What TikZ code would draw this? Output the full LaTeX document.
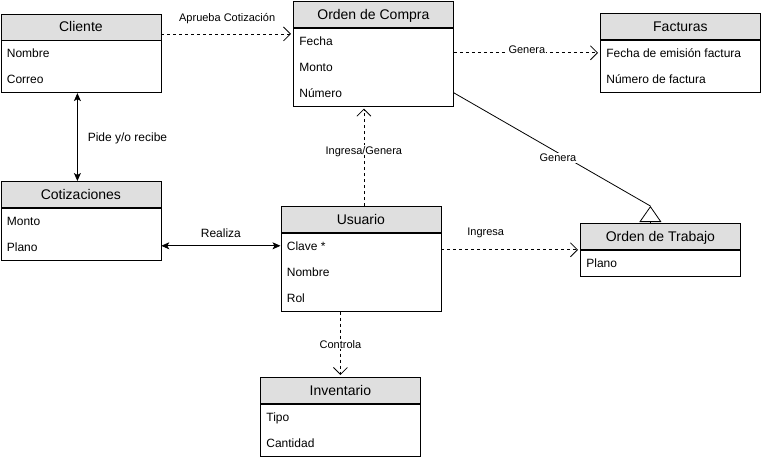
\documentclass[tikz,border=0pt]{standalone}
\usepackage{fontspec}
\setmainfont{Liberation Sans}
\usetikzlibrary{arrows.meta}

\begin{document}
\begin{tikzpicture}[x=1pt,y=-1pt,line width=0.8pt,
  hdr/.style={draw,fill=gray!25,minimum width=160pt,minimum height=26pt,inner sep=0pt,anchor=north west,font=\fontsize{14}{16}\selectfont,text height=10pt,text depth=0pt},
  body/.style={draw,minimum width=160pt,inner sep=0pt,anchor=north west},
  attr/.style={anchor=west,inner sep=0pt,font=\fontsize{12}{14}\selectfont,text height=8.6pt,text depth=0pt},
  lbl/.style={fill=white,inner sep=1pt,font=\fontsize{11}{13}\selectfont,text height=7.9pt,text depth=0pt},
  lblbig/.style={fill=white,inner sep=1pt,font=\fontsize{12}{14}\selectfont,text height=8.6pt,text depth=0pt},
  dep/.style={dash pattern=on 3pt off 3pt,-{Straight Barb[length=7pt,width=14pt]},shorten >=2pt},
  assoc/.style={{Stealth[length=8pt,width=7pt,inset=2pt]}-{Stealth[length=8pt,width=7pt,inset=2pt]}},
  gen/.style={-{Triangle[open,length=16pt,width=22pt]}}]
\useasboundingbox (0,0) rectangle (761,459);

% Cliente
\node[hdr] (cli) at (0.5,13.5) {Cliente};
\node[body,minimum height=52pt] (cli-b) at (cli.south west) {};
\foreach \t [count=\i] in {Nombre,Correo}
  \node[attr] (cli-\i) at ([xshift=6pt,yshift=13pt-26pt*\i]cli.south west) {\t};

% Orden de Compra
\node[hdr] (odc) at (293,1) {Orden de Compra};
\node[body,minimum height=78pt] (odc-b) at (odc.south west) {};
\foreach \t [count=\i] in {Fecha,Monto,Número}
  \node[attr] (odc-\i) at ([xshift=6pt,yshift=13pt-26pt*\i]odc.south west) {\t};

% Facturas
\node[hdr] (fac) at (600,13) {Facturas};
\node[body,minimum height=52pt] (fac-b) at (fac.south west) {};
\foreach \t [count=\i] in {Fecha de emisión factura,Número de factura}
  \node[attr] (fac-\i) at ([xshift=6pt,yshift=13pt-26pt*\i]fac.south west) {\t};

% Cotizaciones
\node[hdr] (cot) at (0.5,181) {Cotizaciones};
\node[body,minimum height=52pt] (cot-b) at (cot.south west) {};
\foreach \t [count=\i] in {Monto,Plano}
  \node[attr] (cot-\i) at ([xshift=6pt,yshift=13pt-26pt*\i]cot.south west) {\t};

% Usuario
\node[hdr] (usr) at (280.5,206) {Usuario};
\node[body,minimum height=78pt] (usr-b) at (usr.south west) {};
\foreach \t [count=\i] in {Clave *,Nombre,Rol}
  \node[attr] (usr-\i) at ([xshift=6pt,yshift=13pt-26pt*\i]usr.south west) {\t};

% Orden de Trabajo
\node[hdr] (ot) at (580,223) {Orden de Trabajo};
\node[body,minimum height=26pt] (ot-b) at (ot.south west) {};
\node[attr] (ot-1) at ([xshift=6pt,yshift=-13pt]ot.south west) {Plano};

% Inventario
\node[hdr] (inv) at (260,377) {Inventario};
\node[body,minimum height=52pt] (inv-b) at (inv.south west) {};
\foreach \t [count=\i] in {Tipo,Cantidad}
  \node[attr] (inv-\i) at ([xshift=6pt,yshift=13pt-26pt*\i]inv.south west) {\t};

% Relations
\coordinate (a1) at ([yshift=-7pt]cli.east);
\draw[dep] (a1) -- (a1 -| odc.west) node[lbl,midway,yshift=16pt,fill=none] {Aprueba Cotización};

\coordinate (a2) at ([xshift=-3.5pt]cli-b.south);
\draw[assoc] (a2) -- (a2 |- cot.north) node[lblbig,midway,right=9pt] {Pide y/o recibe};

\draw[assoc] (cot-b.east |- usr-1) -- (usr-b.west |- usr-1) node[lblbig,midway,yshift=13pt] {Realiza};

\coordinate (a3) at ([xshift=3pt]usr.north);
\draw[dep] (a3) -- (a3 |- odc-b.south) node[lbl,pos=0.56] {Ingresa/Genera};

\draw[dep] (odc-b.east |- fac-1) -- (fac-b.west |- fac-1) node[lbl,midway,yshift=3pt] {Genera};

\coordinate (a4) at ([xshift=-10pt,yshift=17pt]ot.north);
\draw (odc-b.east |- odc-3) -- (a4) node[lbl,pos=0.53,yshift=-5pt] {Genera};
\draw[gen] ([xshift=-10pt]ot.north) -- (a4);

\draw[dep] (usr-b.east |- ot.south) -- (ot.south west) node[lbl,pos=0.32,yshift=18pt,fill=none] {Ingresa};

\draw[dep] (usr-b.south -| inv.north) -- (inv.north) node[lbl,midway] {Controla};
\end{tikzpicture}
\end{document}
